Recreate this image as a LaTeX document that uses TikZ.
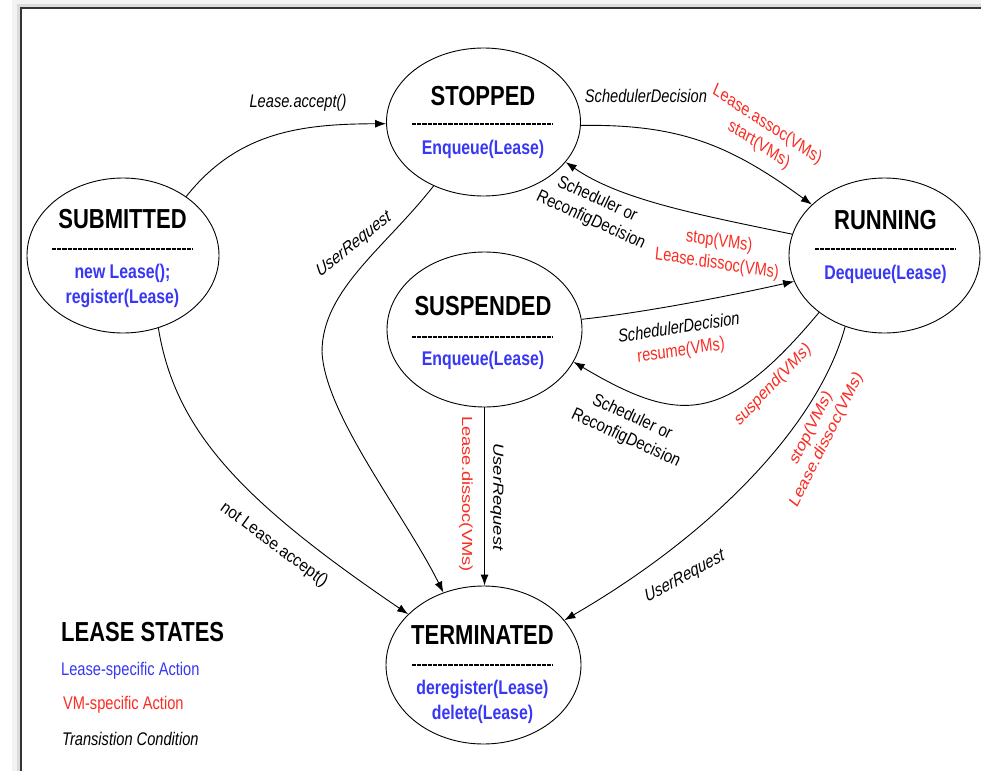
\documentclass[tikz,border=0pt]{standalone}
\usepackage{fontspec}
\setmainfont{Liberation Sans}
\usetikzlibrary{arrows.meta,shapes.geometric}
\definecolor{actblue}{RGB}{55,55,245}
\definecolor{vmred}{RGB}{250,45,35}
\newcommand\statefont{\fontsize{27.5}{30}\selectfont\bfseries}
\newcommand\actfont{\fontsize{19.8}{24.5}\selectfont\bfseries}
\newcommand\lblfont{\fontsize{18.3}{22.5}\selectfont}
\begin{document}
\begin{tikzpicture}[x=1.25pt,y=-1pt,xscale=0.8,
  state/.style={ellipse,draw,line width=0.9pt,inner sep=0pt,
                minimum width=194pt,minimum height=154pt},
  ttl/.style={transform shape,inner sep=0pt,font=\statefont},
  act/.style={transform shape,inner sep=0pt,text=actblue,font=\actfont,align=center},
  lbl/.style={transform shape,inner sep=0pt,font=\lblfont\itshape,align=center},
  vm/.style={transform shape,inner sep=0pt,text=vmred,font=\lblfont,align=center},
  mixed/.style={transform shape,inner sep=0pt,font=\lblfont,align=center},
  divider/.style={line width=2pt,dash pattern=on 4.2pt off 1pt},
  trans/.style={line width=0.9pt,-{Latex[length=11pt,width=8pt]}}]
\useasboundingbox (0,0) rectangle (981,771);
\fill[white] (0,0) rectangle (981,771);

% page edge with a soft shadow
\draw[line width=8pt,black!5] (16,771) -- (16,3) -- (981,3);
\draw[line width=4pt,black!14] (18.5,771) -- (18.5,5.5) -- (981,5.5);
\draw[line width=1.4pt,black!80] (21,771) -- (21,8) -- (981,8);

% states
\node[state,minimum height=148pt] (stop) at (483.5,122) {};
\node[state,minimum width=192pt,minimum height=155pt] (sub) at (123,255.5) {};
\node[state,minimum width=191pt,minimum height=155pt] (run) at (884.5,255.5) {};
\node[state,minimum width=195pt,minimum height=155pt] (susp) at (484.5,329.5) {};
\node[state,minimum width=195pt,minimum height=158pt] (term) at (483.5,665) {};

\node[ttl] (stopT) at (483,96) {STOPPED};
\node[act] (stopA) at (483,149) {Enqueue(Lease)};
\node[ttl] (subT) at (122.5,219) {SUBMITTED};
\node[act] (subA) at (122.5,286) {new Lease();\\register(Lease)};
\node[ttl] (runT) at (885.5,220) {RUNNING};
\node[act] (runA) at (885.5,274) {Dequeue(Lease)};
\node[ttl] (suspT) at (483,306) {SUSPENDED};
\node[act] (suspA) at (483,360) {Enqueue(Lease)};
\node[ttl] (termT) at (482.5,635) {TERMINATED};
\node[act] (termA) at (482.5,702) {deregister(Lease)\\delete(Lease)};

\draw[divider] (412,124) -- (553,124);
\draw[divider] (52,249) -- (193,249);
\draw[divider] (815,249) -- (956,249);
\draw[divider] (412,337) -- (553,337);
\draw[divider] (412,665) -- (553,665);

% transitions
\draw[trans] (sub.43) .. controls (238,131) and (303,124) .. (stop.181);
\draw[trans] (stop.358) .. controls (680,124) and (730,145) .. (run.145);
\draw[trans] (run.167) .. controls (700,215) and (620,200) .. (stop.334);
\draw[trans] (susp.6) .. controls (640,313) and (720,298) .. (run.196);
\draw[trans] (run.221) .. controls (725,425) and (680,425) .. (susp.340);
\coordinate (bend) at (322,352);
\draw[trans] (stop.232) .. controls (385,248) and (322,290) .. (bend)
             .. controls (325,415) and (405,515) .. (term.119);
\draw[trans] (sub.296) .. controls (175,430) and (240,500) .. (term.146);
\draw[trans] (susp.south) -- (susp.south |- term.north);
\draw[trans] (run.241) .. controls (820,420) and (720,530) .. (term.29);

% transition labels
\node[lbl] (lAccept) at (298,103) {Lease.accept()};
\node[lbl] (lSchedA) at (646,96) {SchedulerDecision};
\node[vm,rotate=-28] (lStart) at (763,135) {Lease.assoc(VMs)\\start(VMs)};
\node[lbl,rotate=-20] (lRecA) at (594,210) {Scheduler or\\ReconfigDecision};
\node[vm,rotate=-7] (lStopA) at (718,253) {stop(VMs)\\Lease.dissoc(VMs)};
\node[mixed,rotate=7] (lResume) at (680,340) {\itshape SchedulerDecision\\\textcolor{vmred}{resume(VMs)}};
\node[lbl,rotate=-20] (lRecB) at (629,428) {Scheduler or\\ReconfigDecision};
\node[vm,rotate=40] (lSusp) at (773,385) {suspend(VMs)};
\node[lbl,rotate=33] (lUserA) at (354,245) {UserRequest};
\node[lbl,rotate=-31] (lNot) at (274,545) {not Lease.accept()};
\node[vm,rotate=-90] (lDissoc) at (466,494) {Lease.dissoc(VMs)};
\node[lbl,rotate=-90] (lUserB) at (497,497) {UserRequest};
\node[lbl,rotate=24] (lUserC) at (685,577) {UserRequest};
\node[vm,rotate=58] (lStopB) at (819,434) {stop(VMs)\\Lease.dissoc(VMs)};

% legend
\node[ttl,anchor=west] (legT) at (61,632) {LEASE STATES};
\node[transform shape,inner sep=0pt,anchor=west,text=actblue,font=\lblfont] (legA) at (61,671) {Lease-specific Action};
\node[vm,anchor=west] (legV) at (63,705) {VM-specific Action};
\node[lbl,anchor=west] (legC) at (62,739) {Transistion Condition};
\end{tikzpicture}
\end{document}
